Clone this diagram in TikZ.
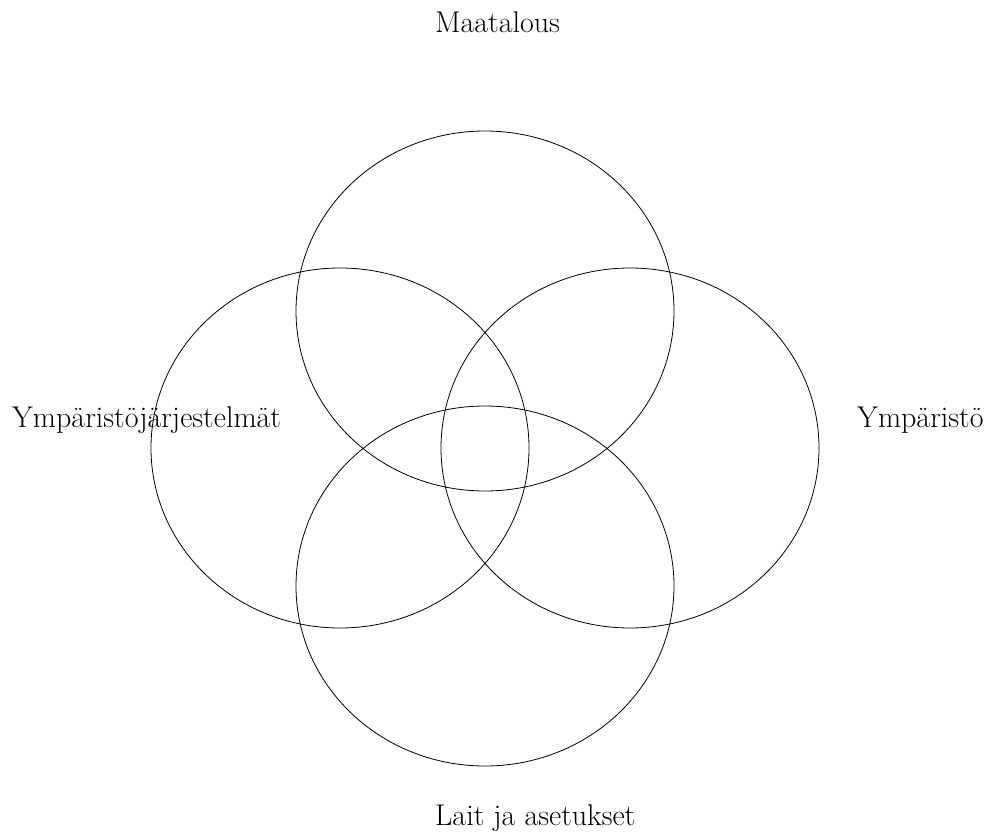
\documentclass[tikz,border=0pt]{standalone}
\usepackage{tikz}
\tikzset{
  piiri/.style={draw=black, line width=0.8pt},
  otsikko/.style={anchor=base west, inner sep=0pt, font=\fontsize{30}{33}\selectfont}
}
\begin{document}
\begin{tikzpicture}[x=1pt, y=-1pt]
    % Kehys kuvan mittoihin
    \useasboundingbox (0,0) rectangle (993,837);

    % Neljä ellipsiä
    \draw[piiri] (485,311) ellipse (189 and 180);
    \draw[piiri] (340,448) ellipse (189 and 180);
    \draw[piiri] (630,448) ellipse (189 and 180);
    \draw[piiri] (485,586) ellipse (189 and 180);

    % Otsikot
    \node[otsikko] (maatalous) at (435,33) {Maatalous};
    \node[otsikko] (jarjestelmat) at (12,427) {Ympäristöjärjestelmät};
    \node[otsikko] (ymparisto) at (857,427) {Ympäristö};
    \node[otsikko] (lait) at (435,825) {Lait ja asetukset};
  \end{tikzpicture}
\end{document}
